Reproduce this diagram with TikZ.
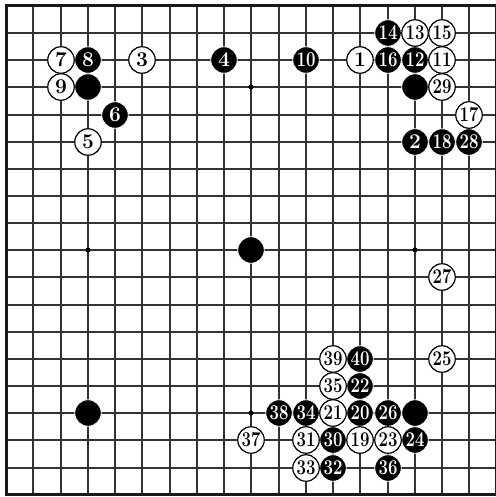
\documentclass[tikz,border=0pt]{standalone}
\usepackage{fontspec}
\usepackage{graphicx}
\newcommand\stonenum[1]{\ifnum#1>9 \scalebox{0.8}[1]{#1}\else #1\fi}
\tikzset{
  gridline/.style={line width=1.8pt, black!80},
  borderline/.style={line width=3pt, black!90},
  stonebase/.style={circle, inner sep=0pt, minimum size=26.5pt, font=\bfseries\fontsize{21}{21}\selectfont},
  blk/.style={stonebase, fill=black, draw=white, line width=0.8pt, text=white},
  wht/.style={stonebase, fill=white, draw=black, line width=1.2pt, text=black},
}
\begin{document}
\begin{tikzpicture}[x=1pt,y=-1pt]
\useasboundingbox (0,0) rectangle (495,497);
\fill[white] (0,0) rectangle (495,497);
% grid (positions snapped to whole pixels)
\foreach \i in {1,...,17} {
  \pgfmathsetmacro\gx{round(6+\i*27.25)}
  \pgfmathsetmacro\gy{round(6+\i*27.15)}
  \draw[gridline] (\gx,6) -- (\gx,494.7);
  \draw[gridline] (6,\gy) -- (496.5,\gy);
}
\draw[borderline] (6,6) rectangle (496.5,494.7);
% star points
\foreach \c/\r in {9/3,3/9,15/9,9/15}
  \fill ({round(6+\c*27.25)},{round(6+\r*27.15)}) circle (2.6);
% plain black stones
\foreach \c/\r/\k in {3/3/1,15/3/2,9/9/3,3/15/4,15/15/5}
  \node[blk] (p\k) at ({round(6+\c*27.25)},{round(6+\r*27.15)}) {};
% numbered black stones
\foreach \c/\r/\n in {15/5/2,8/2/4,4/4/6,3/2/8,11/2/10,15/2/12,14/1/14,14/2/16,16/5/18,
  13/15/20,13/14/22,15/16/24,14/15/26,17/5/28,12/16/30,12/17/32,11/15/34,14/17/36,10/15/38,13/13/40}
  \node[blk] (b\n) at ({round(6+\c*27.25)},{round(6+\r*27.15)}) {\stonenum{\n}};
% numbered white stones
\foreach \c/\r/\n in {13/2/1,5/2/3,3/5/5,2/2/7,2/3/9,16/2/11,15/1/13,16/1/15,17/4/17,
  13/16/19,12/15/21,14/16/23,16/13/25,16/10/27,16/3/29,11/16/31,11/17/33,12/14/35,9/16/37,12/13/39}
  \node[wht] (w\n) at ({round(6+\c*27.25)},{round(6+\r*27.15)}) {\stonenum{\n}};
\end{tikzpicture}
\end{document}
